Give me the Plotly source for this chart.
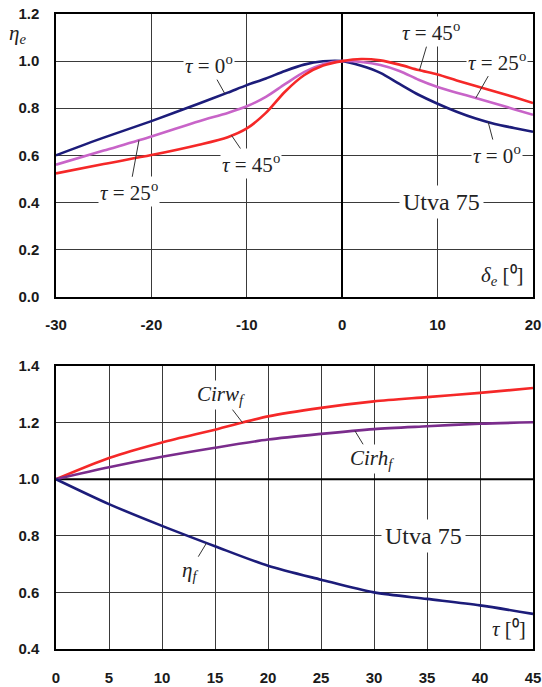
import numpy as np
import plotly.graph_objects as go

# ---------------- data ----------------
delta_e = [-30, -25, -20, -15, -12, -10, -8, -6, -4, -2, 0, 2, 4, 6, 8, 10, 12, 14, 16, 18, 20]
eta_e_tau0 = [0.600, 0.675, 0.745, 0.820, 0.866, 0.898, 0.926, 0.958, 0.985, 0.999, 1.000,
              0.980, 0.950, 0.903, 0.857, 0.819, 0.785, 0.756, 0.733, 0.716, 0.700]
eta_e_tau25 = [0.560, 0.620, 0.680, 0.745, 0.780, 0.808, 0.848, 0.902, 0.953, 0.987, 1.000,
               0.996, 0.983, 0.958, 0.921, 0.890, 0.866, 0.843, 0.820, 0.796, 0.772]
eta_e_tau45 = [0.523, 0.563, 0.601, 0.645, 0.677, 0.714, 0.780, 0.870, 0.940, 0.981, 1.000,
               1.009, 1.003, 0.985, 0.962, 0.943, 0.918, 0.894, 0.871, 0.847, 0.822]

tau = [0, 5, 10, 15, 20, 25, 30, 35, 40, 45]
cirw_f = [1.000, 1.075, 1.130, 1.175, 1.222, 1.252, 1.275, 1.290, 1.305, 1.322]
cirh_f = [1.000, 1.042, 1.079, 1.111, 1.140, 1.160, 1.177, 1.187, 1.196, 1.201]
eta_f = [1.000, 0.912, 0.835, 0.763, 0.694, 0.645, 0.600, 0.577, 0.554, 0.524]

top_xticks = [-30, -20, -10, 0, 10, 20]
top_xlabels = ["-30", "-20", "-10", "0", "10", "20"]
top_yticks = [0.0, 0.2, 0.4, 0.6, 0.8, 1.0, 1.2]
bot_yticks = [0.4, 0.6, 0.8, 1.0, 1.2, 1.4]
ref_level = 1.0

# ---------------- style ----------------
NAVY = "#1c1c7a"
ORCHID = "#c864c8"
RED = "#f52828"
PURPLE = "#7a2c8c"
GRID = "#3a3a3a"
SERIF = "Liberation Serif, Times New Roman, serif"
SANS = "Liberation Sans, Arial, sans-serif"
LW = 2.6

fig = go.Figure()
# heavy reference line at 1.0 in lower chart (under the curves)
fig.add_trace(go.Scatter(x=[tau[0], tau[-1]], y=[ref_level, ref_level], mode="lines",
                         xaxis="x2", yaxis="y2", line=dict(color="black", width=2),
                         showlegend=False, hoverinfo="skip"))
for y, c in [(eta_e_tau0, NAVY), (eta_e_tau25, ORCHID), (eta_e_tau45, RED)]:
    fig.add_trace(go.Scatter(x=delta_e, y=y, mode="lines", xaxis="x", yaxis="y",
                             line=dict(color=c, width=LW, shape="spline", smoothing=0.8),
                             showlegend=False, hoverinfo="skip"))
for y, c in [(cirw_f, RED), (cirh_f, PURPLE), (eta_f, NAVY)]:
    fig.add_trace(go.Scatter(x=tau, y=y, mode="lines", xaxis="x2", yaxis="y2",
                             line=dict(color=c, width=LW, shape="spline", smoothing=0.8),
                             showlegend=False, hoverinfo="skip"))

tickfont = dict(family=SANS, size=15, color="#1a1a1a", weight="bold")
axis_common = dict(showline=True, linecolor="black", linewidth=1.5, mirror=True,
                   showgrid=True, gridcolor=GRID, gridwidth=1, ticks="",
                   tickfont=tickfont, zeroline=False, automargin=False)

top_dom = [0.555, 1.0]
bot_dom = [0.0, 0.4457]

fig.update_layout(
    width=542, height=687,
    margin=dict(l=56, r=9, t=14, b=38),
    paper_bgcolor="white", plot_bgcolor="white",
    xaxis=dict(axis_common, domain=[0, 1], anchor="y", range=[-30, 20],
               tickvals=top_xticks, ticktext=top_xlabels, ticklabelstandoff=14,
               zeroline=True, zerolinecolor="black", zerolinewidth=2),
    yaxis=dict(axis_common, domain=top_dom, anchor="x", range=[0, 1.2],
               tickvals=top_yticks, tickformat=".1f", ticklabelstandoff=12),
    xaxis2=dict(axis_common, domain=[0, 1], anchor="y2", range=[0, 45],
                tickvals=tau, ticklabelstandoff=14),
    yaxis2=dict(axis_common, domain=bot_dom, anchor="x2", range=[0.4, 1.4],
                tickvals=bot_yticks, tickformat=".1f", ticklabelstandoff=12),
)

lab_font = dict(family=SERIF, size=21, color="#222")


def leader(text, xref, yref, xs, ys, x_at, tx, ty):
    y_at = float(np.interp(x_at, xs, ys))
    fig.add_annotation(x=x_at, y=y_at, xref=xref, yref=yref,
                       ax=tx, ay=ty, axref=xref, ayref=yref,
                       text=text, showarrow=True, arrowhead=0, arrowwidth=1,
                       arrowcolor="#333", font=lab_font, bgcolor="white",
                       borderpad=1)


deg = "<sup>o</sup>"
leader("<i>τ</i> = 0" + deg, "x", "y", delta_e, eta_e_tau0, -12.3, -14.0, 0.985)
leader("<i>τ</i> = 45" + deg, "x", "y", delta_e, eta_e_tau45, -11.6, -9.6, 0.565)
leader("<i>τ</i> = 25" + deg, "x", "y", delta_e, eta_e_tau25, -21.3, -22.3, 0.445)
leader("<i>τ</i> = 45" + deg, "x", "y", delta_e, eta_e_tau45, 8.1, 9.3, 1.125)
leader("<i>τ</i> = 25" + deg, "x", "y", delta_e, eta_e_tau25, 14.0, 16.2, 1.0)
leader("<i>τ</i> = 0" + deg, "x", "y", delta_e, eta_e_tau0, 15.3, 16.2, 0.603)

leader("<i>Cirw<sub>f</sub></i>", "x2", "y2", tau, cirw_f, 17.6, 15.6, 1.297)
leader("<i>Cirh<sub>f</sub></i>", "x2", "y2", tau, cirh_f, 28.2, 29.8, 1.072)
leader("<i>η<sub>f</sub></i>", "x2", "y2", tau, eta_f, 14.2, 12.6, 0.675)

big_font = dict(family=SERIF, size=24, color="#222")
fig.add_annotation(x=10.4, y=0.4, xref="x", yref="y", text="Utva 75", showarrow=False,
                   font=big_font, bgcolor="white", borderpad=3)
fig.add_annotation(x=34.7, y=0.8, xref="x2", yref="y2", text="Utva 75", showarrow=False,
                   font=big_font, bgcolor="white", borderpad=3)

pw = 542 - 56 - 9
ph = 687 - 14 - 38
fig.add_annotation(x=(17 - 56) / pw, y=(687 - 38 - 34) / ph, xref="paper", yref="paper",
                   text="<i>η<sub>e</sub></i>", showarrow=False, font=lab_font,
                   xanchor="center", yanchor="middle")
fig.add_annotation(x=0.985, y=0.02, xref="x domain", yref="y domain",
                   xanchor="right", yanchor="bottom",
                   text="<i>δ<sub>e</sub></i> [⁰]", showarrow=False, font=lab_font)
fig.add_annotation(x=0.99, y=0.02, xref="x2 domain", yref="y2 domain",
                   xanchor="right", yanchor="bottom",
                   text="<i>τ</i> [⁰]", showarrow=False, font=lab_font)

fig.write_html("out.html")
